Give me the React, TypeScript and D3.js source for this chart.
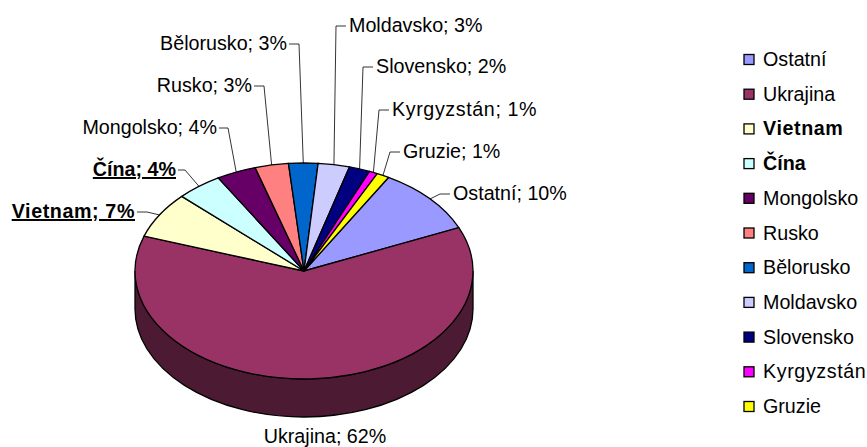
import React from "react";
import * as d3 from "d3";

const categories = ["Ostatní","Ukrajina","Vietnam","Čína","Mongolsko","Rusko","Bělorusko","Moldavsko","Slovensko","Kyrgyzstán","Gruzie"];
const shares = [10.1,61.8,6.9,4.4,3.8,3.2,2.8,3.0,2.0,0.8,1.2];
const percentLabels = [10,62,7,4,4,3,3,3,2,1,1];
const colors = ["#9999ff","#993366","#ffffcc","#ccffff","#660066","#ff8080","#0066cc","#ccccff","#000080","#ff00ff","#ffff00"];
const emphasised = ["Vietnam","Čína"];
const spaced = ["Vietnam","Kyrgyzstán"];

// label layout: elbow of each leader, text side, horizontal leader length
const elbows: Record<string,[number,number,"start"|"end",number]> = {
  "Ostatní":[440,194,"start",10],
  "Vietnam":[147,212,"end",10],
  "Čína":[185,170,"end",7],
  "Mongolsko":[228,128,"end",9],
  "Rusko":[264,86,"end",10],
  "Bělorusko":[299,44,"end",10],
  "Moldavsko":[336,26,"start",10],
  "Slovensko":[363,67,"start",10],
  "Kyrgyzstán":[379,110,"start",10],
  "Gruzie":[390,152,"start",10],
};

const cx=304, cy=271, rx=169, ry=108, depth=38;
const FONT="'Liberation Sans', Arial, sans-serif";
const FS=19.7;

export default function App(){
  const pie=d3.pie<number>().sort(null).startAngle(Math.PI/6).endAngle(Math.PI/6+2*Math.PI);
  const slices=pie(shares);
  const arc=d3.arc<d3.PieArcDatum<number>>().innerRadius(0).outerRadius(rx);
  const legendY=d3.scalePoint<string>().domain(categories).range([59.5,406.5]);
  const side=`M${cx-rx},${cy} L${cx-rx},${cy+depth} A${rx},${ry} 0 0 0 ${cx+rx},${cy+depth} L${cx+rx},${cy} A${rx},${ry} 0 0 1 ${cx-rx},${cy} Z`;
  return (
    <svg width={867} height={447} style={{position:"absolute",left:0,top:0,background:"#fff"}} fontFamily={FONT} fontSize={FS} fill="#000">
      <path d={side} fill="#4d1a33" stroke="#000" strokeWidth={1.3}/>
      <g transform={`translate(${cx},${cy}) scale(1,${ry/rx})`}>
        {slices.map((s,i)=>(
          <path key={i} d={arc(s)!} fill={colors[i]} stroke="#000" strokeWidth={1.3} style={{vectorEffect:"non-scaling-stroke"}}/>
        ))}
      </g>
      {slices.map((s,i)=>{
        const name=categories[i];
        const text=`${name}; ${percentLabels[i]}%`;
        const e=elbows[name];
        if(!e) return <text key={i} x={325} y={443} textAnchor="middle">{text}</text>;
        const mid=(s.startAngle+s.endAngle)/2;
        const ax=cx+rx*Math.sin(mid), ay=cy-ry*Math.cos(mid);
        const [ex,ey,anchor,len]=e;
        const dir=anchor==="start"?1:-1;
        const tx=ex+dir*len;
        const bold=emphasised.includes(name);
        return (
          <g key={i}>
            <polyline points={`${ax},${ay} ${ex},${ey} ${tx},${ey}`} fill="none" stroke="#000" strokeWidth={0.8}/>
            <text x={tx+(dir>0?3:-2)} y={ey+6} textAnchor={anchor} fontWeight={bold?"bold":"normal"} textDecoration={bold?"underline":undefined} letterSpacing={spaced.includes(name)?0.6:undefined}>{text}</text>
          </g>
        );
      })}
      {categories.map((c,i)=>{
        const y=legendY(c)!;
        return (
          <g key={c}>
            <rect x={744} y={y-5} width={10} height={10} fill={colors[i]} stroke="#000" strokeWidth={1.3}/>
            <text x={763} y={y+6.5} fontWeight={emphasised.includes(c)?"bold":"normal"} letterSpacing={spaced.includes(c)?0.6:undefined}>{c}</text>
          </g>
        );
      })}
    </svg>
  );
}
